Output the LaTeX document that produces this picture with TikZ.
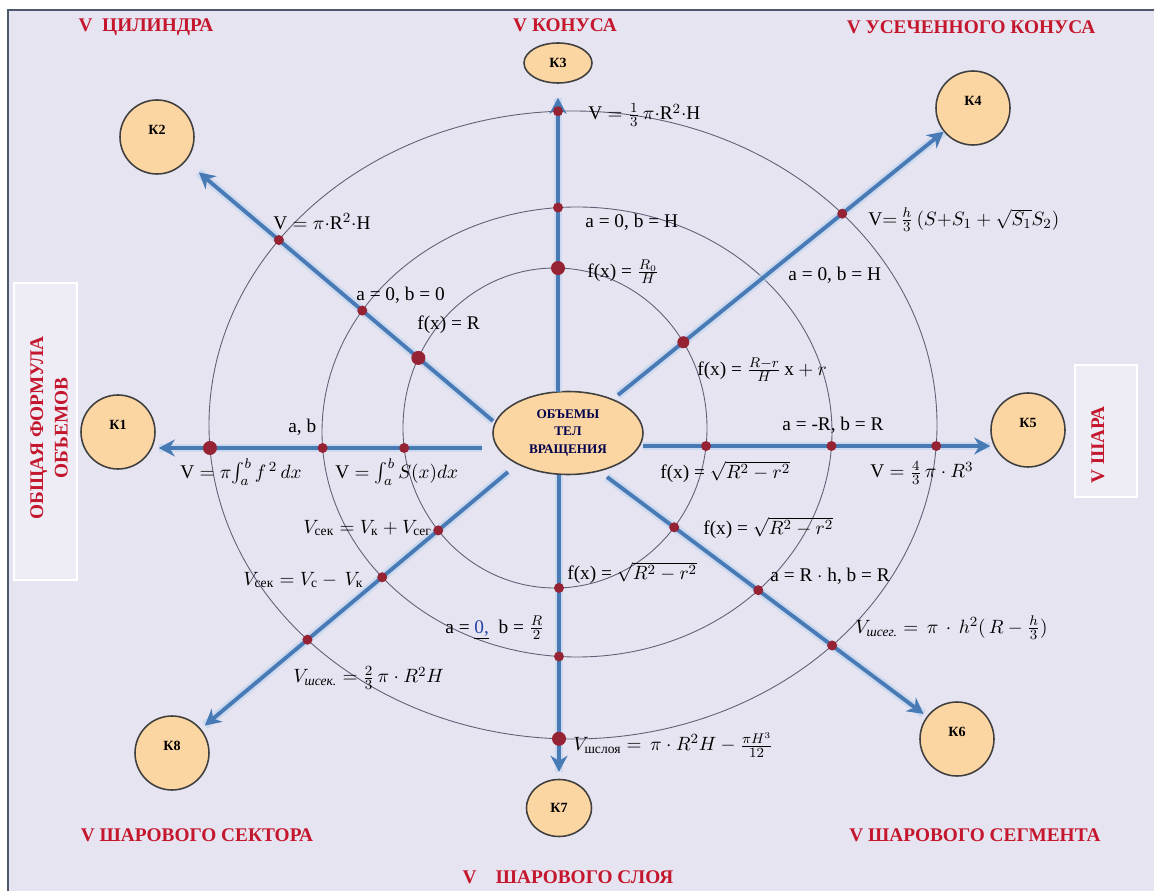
\documentclass[tikz,border=0pt]{standalone}
\usepackage{amsmath, amssymb}
\usepackage{fontspec}
\setmainfont{Liberation Serif}
\usetikzlibrary{calc, intersections, arrows.meta, shapes.geometric}
\definecolor{bgc}{RGB}{230,228,240}
\definecolor{framec}{RGB}{78,88,108}
\definecolor{titlec}{RGB}{196,22,44}
\definecolor{axisc}{RGB}{72,122,182}
\definecolor{haloc}{RGB}{188,210,238}
\definecolor{peach}{RGB}{252,214,162}
\definecolor{dotc}{RGB}{150,35,52}
\definecolor{ringc}{RGB}{95,95,118}
\definecolor{linkc}{RGB}{40,70,170}

\begin{document}
\begin{tikzpicture}[x=0.02cm, y=-0.02cm,
        kbox/.style={circle, draw=black!75, line width=0.9pt, fill=peach, minimum size=1.48cm,
                inner sep=0pt, text depth=0.28cm, font=\fontsize{8}{9}\selectfont\bfseries},
        kova/.style={ellipse, draw=black!75, line width=0.9pt, fill=peach, inner sep=0pt,
                font=\fontsize{8}{9}\selectfont\bfseries},
        arr/.style={draw=axisc, line width=2.2pt, -{Stealth[length=0.32cm, width=0.34cm]},
                preaction={draw=haloc, line width=5pt, opacity=0.6, -}},
        ring/.style={draw=ringc, line width=0.5pt},
        lbl/.style={anchor=west, inner sep=0pt, font=\fontsize{11}{13}\selectfont},
        ttl/.style={inner sep=0pt, text=titlec, font=\fontsize{11}{13}\selectfont\bfseries}]
        \useasboundingbox (0,0) rectangle (1154,891);
        \fill[white] (0,0) rectangle (1154,891);
        \fill[bgc] (8,10) rectangle (1154,891);
        \draw[framec, line width=1.6pt] (8,891) -- (8,10) -- (1154,10);
        \fill[white, opacity=0.35] (14,283) rectangle (77,580);
        \draw[white, line width=0.6pt] (14,283) rectangle (77,580);
        \fill[white, opacity=0.35] (1075,365) rectangle (1137,497);
        \draw[white, line width=0.6pt] (1075,365) rectangle (1137,497);

        \draw[ring, name path=inner] (555,428) ellipse [x radius=152, y radius=160];
        \draw[ring, name path=mid] (577,432) ellipse [x radius=255, y radius=225];
        \draw[ring, name path=outer] (573,425) ellipse [x radius=364, y radius=314];

        \node[ellipse, draw=black!75, line width=0.9pt, fill=peach, minimum width=3cm, minimum height=1.66cm,
                align=center, text=black!70!blue, font=\fontsize{7.5}{10}\selectfont\bfseries] (vol) at (568,433)
                {ОБЪЕМЫ\\ТЕЛ\\ВРАЩЕНИЯ};
        \node[kbox] (k1) at (118,432) {К1};
        \node[kbox] (k2) at (157,137) {К2};
        \node[kova, minimum width=1.36cm, minimum height=0.8cm] (k3) at (558,63) {К3};
        \node[kbox] (k4) at (973,108) {К4};
        \node[kbox] (k5) at (1028,430) {К5};
        \node[kbox] (k6) at (957,739) {К6};
        \node[kova, minimum width=1.3cm, minimum height=1.14cm] (k7) at (559,808) {К7};
        \node[kbox] (k8) at (172,753) {К8};

        \coordinate (a1) at (482,448);
        \coordinate (a2) at (493,421);
        \coordinate (a3) at (558,392);
        \coordinate (a4) at (618,395);
        \coordinate (a5) at (643,446);
        \coordinate (a6) at (607,477);
        \coordinate (a7) at (559,475);
        \coordinate (a8) at (508,472);
        \draw[arr, name path=w, shorten >=0.06cm] (a1) -- (a1 -| k1.east);
        \draw[arr, name path=nw, shorten >=0.34cm] (a2) -- (k2);
        \draw[arr, name path=n, shorten >=0.28cm] (a3) -- (k3);
        \draw[arr, name path=ne] (a4) -- (k4);
        \draw[arr, name path=e] (a5) -- (a5 -| k5.west);
        \draw[arr, name path=se, shorten >=0.08cm] (a6) -- (k6);
        \draw[arr, name path=s, shorten >=0.14cm] (a7) -- (k7);
        \draw[arr, name path=sw, shorten >=0.1cm] (a8) -- (k8);

        \foreach \ray/\rng/\rad in {n/inner/7, n/mid/5, n/outer/5, nw/inner/7, nw/mid/5, nw/outer/5,
                ne/inner/6, ne/outer/5, w/inner/5, w/mid/5, w/outer/7, e/inner/5, e/mid/5, e/outer/5,
                sw/inner/5, sw/mid/5, sw/outer/5, se/inner/5, se/mid/5, se/outer/5,
                s/inner/5, s/mid/5, s/outer/7}{
                \edef\dotcmd{\noexpand\fill[dotc, name intersections={of=\ray\space and \rng}]
                        (intersection-1) circle (\rad);}
                \dotcmd}

        \node[lbl] (t1) at (588,115) {$\mathrm{V} = \frac{1}{3}\,\pi{\cdot}\mathrm{R}^2{\cdot}\mathrm{H}$};
        \node[lbl] (t2) at (585,222) {a = 0, b = H};
        \node[lbl] (t3) at (587,272) {f(x) = $\frac{R_0}{H}$};
        \node[lbl] (t4) at (273,222) {$\mathrm{V} = \pi{\cdot}\mathrm{R}^2{\cdot}\mathrm{H}$};
        \node[lbl] (t5) at (356,295) {a = 0, b = 0};
        \node[lbl] (t6) at (417,325) {f(x) = R};
        \node[lbl] (t7) at (868,220) {$\mathrm{V}{=}\,\frac{h}{3}\,(S{+}S_1 + \sqrt{S_1}S_2)$};
        \node[lbl] (t8) at (788,275) {a = 0, b = H};
        \node[lbl] (t9) at (697,370) {f(x) = $\frac{R-r}{H}\,\mathrm{x} + r$};
        \node[lbl] (t10) at (288,427) {a, b};
        \node[lbl] (t11) at (180,472) {$\mathrm{V} = \pi\!\int_a^b f^{\,2}\,dx$};
        \node[lbl] (t12) at (335,472) {$\mathrm{V} = \int_a^b S(x)dx$};
        \node[lbl] (t13) at (660,472) {f(x) = $\sqrt{R^2 - r^2}$};
        \node[lbl] (t14) at (782,425) {a = -R, b = R};
        \node[lbl] (t15) at (870,473) {$\mathrm{V} = \frac{4}{3}\,\pi\cdot R^3$};
        \node[lbl] (t16) at (703,528) {f(x) = $\sqrt{R^2 - r^2}$};
        \node[lbl] (t17) at (770,576) {a = R $\cdot$ h, b = R};
        \node[lbl] (t18) at (855,628) {$V_{\textit{шсег.}} = \,\pi\,\cdot\, h^2(\,R - \frac{h}{3})$};
        \node[lbl] (t19) at (567,573) {f(x) = $\sqrt{R^2 - r^2}$};
        \node[lbl] (t20) at (445,628) {a = \underline{\textcolor{linkc}{0,}}\ \ b = $\frac{R}{2}$};
        \node[lbl] (t21) at (303,528) {$V_{\text{сек}} = V_{\text{к}} + V_{\text{сег}}$};
        \node[lbl] (t22) at (243,580) {$V_{\text{сек}} = V_{\text{с}} -\, V_{\text{к}}$};
        \node[lbl] (t23) at (293,678) {$V_{\textit{шсек.}} = \frac{2}{3}\,\pi\cdot R^2H$};
        \node[lbl] (t24) at (573,745) {$V_{\text{шслоя}} = \,\pi\cdot R^2H - \frac{\pi H^3}{12}$};

        \node[ttl] (h1) at (146,27) {V\enspace ЦИЛИНДРА};
        \node[ttl] (h2) at (565,25) {V КОНУСА};
        \node[ttl] (h3) at (971,27) {V УСЕЧЕННОГО КОНУСА};
        \node[ttl, rotate=90, align=center, font=\fontsize{11}{14}\selectfont\bfseries] (h4) at (49,428)
                {ОБЩАЯ ФОРМУЛА\\ОБЪЕМОВ};
        \node[ttl, rotate=90] (h5) at (1098,445) {V ШАРА};
        \node[ttl] (h6) at (197,835) {V ШАРОВОГО СЕКТОРА};
        \node[ttl] (h7) at (568,877) {V\quad ШАРОВОГО СЛОЯ};
        \node[ttl] (h8) at (975,835) {V ШАРОВОГО СЕГМЕНТА};
\end{tikzpicture}
\end{document}
